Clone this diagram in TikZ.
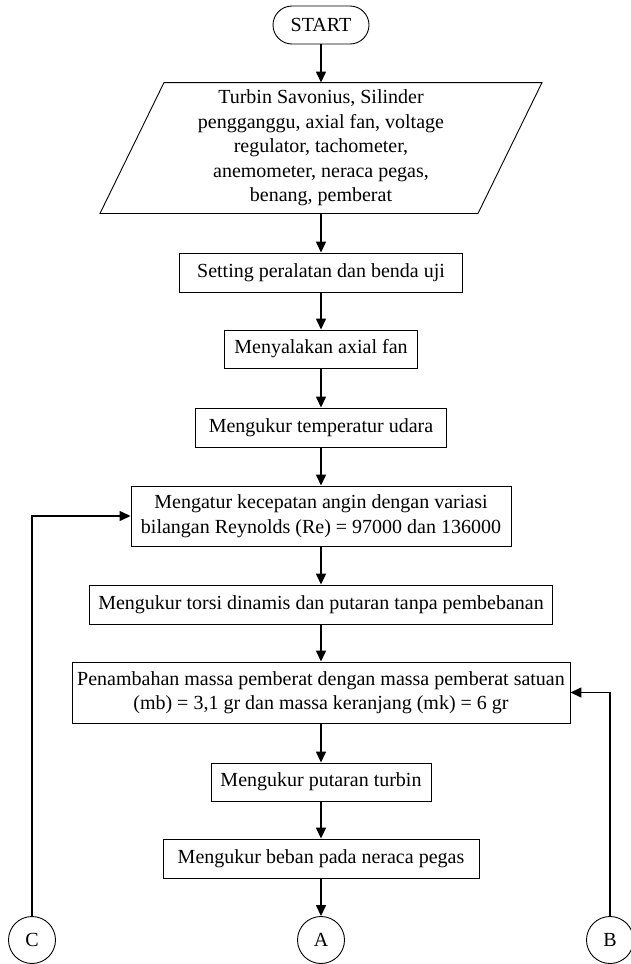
\documentclass[tikz,border=0pt]{standalone}
\usepackage{fontspec}
\setmainfont{Liberation Serif}
\usetikzlibrary{arrows.meta}
\begin{document}
\begin{tikzpicture}[x=1pt,y=-1pt,
  box/.style={draw, line width=0.9pt, rectangle, inner sep=0pt, align=center,
              font=\fontsize{20}{24.5}\selectfont},
  term/.style={box, rounded corners=19pt},
  conn/.style={draw, circle, line width=0.9pt, minimum size=47pt, inner sep=0pt,
               font=\fontsize{20}{24}\selectfont},
  arr/.style={line width=1.4pt, -{Triangle[length=11pt,width=10pt]}}]
\useasboundingbox[fill=white] (0,0) rectangle (630,964);

% terminal and input
\node[term, minimum width=96pt, minimum height=38pt] (start) at (321,25) {START};
\node[box, draw=none, minimum width=378pt, minimum height=130pt] (input) at (321,148)
  {Turbin Savonius, Silinder\\pengganggu, axial fan, voltage\\regulator, tachometer,\\anemometer, neraca pegas,\\benang, pemberat};
\draw[line width=0.9pt] ([xshift=-157pt]input.north) -- ([xshift=221pt]input.north)
  -- ([xshift=157pt]input.south) -- ([xshift=-221pt]input.south) -- cycle;

% process steps
\node[box, minimum width=283pt, minimum height=39pt] (setting) at (321,272.5) {Setting peralatan dan benda uji};
\node[box, minimum width=193pt, minimum height=38pt] (fan) at (321,349) {Menyalakan axial fan};
\node[box, minimum width=251pt, minimum height=39pt] (temp) at (321,427.5) {Mengukur temperatur udara};
\node[box, minimum width=380pt, minimum height=60pt] (speed) at (321,516)
  {Mengatur kecepatan angin dengan variasi\\bilangan Reynolds (Re) = 97000 dan 136000};
\node[box, minimum width=463pt, minimum height=39pt] (torsi) at (321,604.5) {Mengukur torsi dinamis dan putaran tanpa pembebanan};
\node[box, minimum width=498pt, minimum height=61pt] (mass) at (321,692.5)
  {Penambahan massa pemberat dengan massa pemberat satuan\\(mb) = 3,1 gr dan massa keranjang (mk) = 6 gr};
\node[box, minimum width=220pt, minimum height=38pt] (rpm) at (321,782) {Mengukur putaran turbin};
\node[box, minimum width=316pt, minimum height=39pt] (load) at (321,858.5) {Mengukur beban pada neraca pegas};

% off-page connectors
\node[conn] (C) at (32,940) {C};
\node[conn] (A) at (321,940) {A};
\node[conn] (B) at (610,940) {B};

% flow
\draw[arr] (start.south) -- (input.north);
\draw[arr] (input.south) -- (setting.north);
\draw[arr] (setting.south) -- (fan.north);
\draw[arr] (fan.south) -- (temp.north);
\draw[arr] (temp.south) -- (speed.north);
\draw[arr] (speed.south) -- (torsi.north);
\draw[arr] (torsi.south) -- (mass.north);
\draw[arr] (mass.south) -- (rpm.north);
\draw[arr] (rpm.south) -- (load.north);
\draw[arr] (load.south) -- (A.north);
\draw[arr] (C.north) |- (speed.west);
\draw[arr] (B.north) |- (mass.east);
\end{tikzpicture}
\end{document}
